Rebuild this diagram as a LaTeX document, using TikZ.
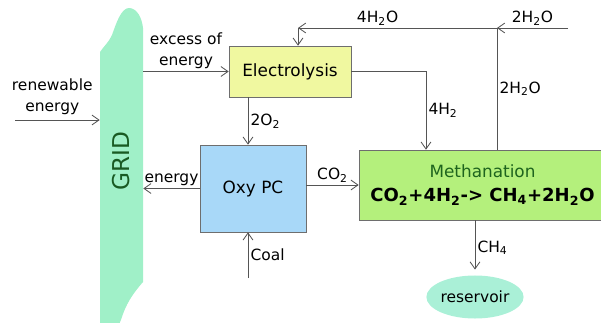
\documentclass[tikz,border=0pt]{standalone}
\usepackage{fontspec}
\setmainfont{DejaVu Sans}
\usetikzlibrary{arrows.meta,positioning,shapes.geometric}
\definecolor{linegray}{RGB}{85,85,85}
\definecolor{boxgray}{RGB}{110,110,110}
\definecolor{elecyellow}{RGB}{240,248,160}
\definecolor{oxyblue}{RGB}{168,216,248}
\definecolor{methgreen}{RGB}{180,240,124}
\definecolor{methdark}{RGB}{30,100,30}
\definecolor{gridgreen}{RGB}{160,240,200}
\definecolor{griddark}{RGB}{25,90,35}
\definecolor{resteal}{RGB}{170,240,215}

\begin{document}
\begin{tikzpicture}[x=0.025cm, y=-0.025cm,
  >={Straight Barb[length=5pt,width=7pt]},
  box/.style={draw=boxgray, thin, font=\fontsize{12}{14}\selectfont},
  lbl/.style={font=\fontsize{11}{15}\selectfont, inner sep=1.5pt},
  flow/.style={->, draw=linegray, line width=0.6pt},
  plain/.style={draw=linegray, line width=0.6pt}]
\useasboundingbox (0,0) rectangle (601,323);

% grid band
\fill[gridgreen] (100,52) .. controls (104,46) and (109,42) .. (112,35)
  .. controls (116,24) and (121,8) .. (129,8)
  .. controls (137,8) and (142,18) .. (143,28) -- (143,282)
  .. controls (136,290) and (128,300) .. (123,314)
  .. controls (121,320) and (119,326) .. (115,330) -- (100,330) -- cycle;
\node[minimum width=1.075cm, minimum height=7.7cm, text=griddark,
      font=\fontsize{16.5}{18}\selectfont] (grid) at (121.5,161) {\rotatebox{90}{GRID}};

\node[box, fill=elecyellow, minimum width=3.05cm,
      minimum height=1.275cm] (elec) at (290,71.5) {Electrolysis};
\node[box, fill=oxyblue, minimum width=2.65cm,
      minimum height=2.175cm] (oxy) at (253,188.5) {Oxy PC};
\node[box, fill=methgreen, minimum width=6.175cm, minimum height=1.75cm,
      align=center] (meth) at (482.5,185)
  {{\color{methdark}Methanation}\\[3pt]
   {\fontsize{12.8}{15}\selectfont\bfseries CO\textsubscript{2}+4H\textsubscript{2}-> CH\textsubscript{4}+2H\textsubscript{2}O}};
\node[ellipse, fill=resteal, minimum width=2.125cm, minimum height=1.075cm,
      inner sep=0pt, font=\fontsize{11}{13}\selectfont] (res) at (475,297) {reservoir};

\coordinate (ren) at (15,120);
\coordinate (coal) at (248,278);
\coordinate (wat) at (568,28);
\coordinate (jn) at ([xshift=0.3625cm]meth.north |- wat);
\coordinate (bend) at ([xshift=0.2cm]elec.north |- wat);

\draw[flow] (ren) -- node[lbl, above, pos=0.44, yshift=2pt, align=center] {renewable\\energy} (ren -| grid.west);
\draw[flow] (grid.east |- elec.west) -- node[lbl, above, align=center] {excess of\\energy} (elec.west);
\draw[flow] (elec.south -| coal) -- node[lbl, right] {2O\textsubscript{2}} (oxy.north -| coal);
\draw[flow] (coal) -- node[lbl, right] {Coal} (oxy.south -| coal);
\draw[flow] (oxy.west) -- node[lbl, above] {energy} (oxy.west -| grid.east);
\draw[flow] (oxy.east |- meth.west) -- node[lbl, above] {CO\textsubscript{2}} (meth.west);
\draw[flow] (elec.east) -| node[lbl, pos=0.75, right] {4H\textsubscript{2}} ([xshift=-1.4125cm]meth.north);
\draw[plain] ([xshift=0.3625cm]meth.north) -- node[lbl, right] {2H\textsubscript{2}O} (jn);
\draw[flow] (wat) -- node[lbl, above] {2H\textsubscript{2}O} (jn);
\draw[flow] (jn) -- node[lbl, pos=0.6, above] {4H\textsubscript{2}O} (bend);
\draw[flow] (bend) -- ([xshift=0.2cm]elec.north);
\draw[flow, shorten >=4pt] (meth.south -| res) -- node[lbl, right] {CH\textsubscript{4}} (res.north);
\end{tikzpicture}
\end{document}
